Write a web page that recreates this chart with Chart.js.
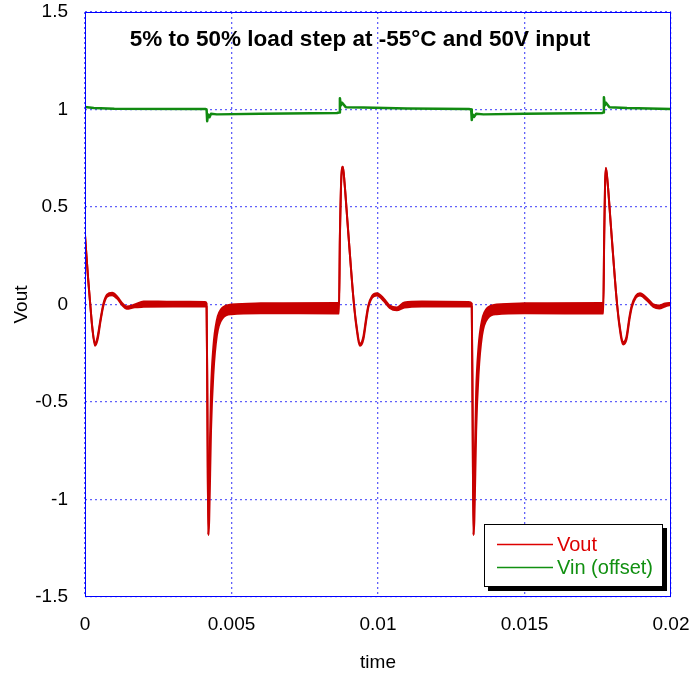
<!DOCTYPE html>
<html>
<head>
<meta charset="utf-8">
<script src="https://cdn.jsdelivr.net/npm/chart.js@4/dist/chart.umd.min.js"></script>
<style>
  html, body { margin: 0; padding: 0; background: #ffffff; }
</style>
</head>
<body>
<canvas id="graficoCarga" width="693" height="674"></canvas>
<script>
// Tempo (s) e tensao de saida: borda superior e inferior da faixa de ruido
const tempoVout = [
  0, 0.00005, 0.00011, 0.00018, 0.00025, 0.00034, 0.00043, 0.00053, 0.00063, 0.00075,
  0.00093, 0.0011, 0.00128, 0.00142, 0.0017, 0.002, 0.003, 0.0041, 0.00415, 0.00418,
  0.00421, 0.00424, 0.0043, 0.00438, 0.0045, 0.0047, 0.005, 0.006, 0.0086, 0.00867,
  0.0087, 0.00874, 0.0088, 0.00886, 0.00896, 0.00905, 0.00915, 0.00925, 0.00939, 0.0095,
  0.0096, 0.00967, 0.0098, 0.00996, 0.0102, 0.0104, 0.01064, 0.0109, 0.0115, 0.0131,
  0.0132, 0.01323, 0.01326, 0.01329, 0.01335, 0.01343, 0.01355, 0.01375, 0.01405, 0.015,
  0.01765, 0.01769, 0.01772, 0.01775, 0.01778, 0.01784, 0.01794, 0.01803, 0.01813, 0.01823,
  0.01837, 0.01848, 0.01858, 0.01866, 0.0188, 0.01894, 0.0192, 0.0194, 0.0196, 0.0198, 0.02
];
const voutAlto = [
  0.356, 0.25, 0.126, 0.0, -0.12, -0.2, -0.165, -0.075, 0.005, 0.05,
  0.06, 0.04, 0.005, -0.01, 0.0, 0.016, 0.014, 0.013, 0.005, -0.6,
  -1.182, -0.9, -0.45, -0.22, -0.08, -0.015, 0.0, 0.006, 0.008, 0.008,
  0.35, 0.62, 0.707, 0.62, 0.42, 0.24, 0.05, -0.09, -0.2, -0.165,
  -0.065, -0.005, 0.045, 0.058, 0.03, -0.005, -0.015, 0.01, 0.015, 0.013,
  0.005, -0.6, -1.182, -0.9, -0.45, -0.22, -0.08, -0.015, 0.0, 0.006,
  0.008, 0.008, 0.35, 0.62, 0.70, 0.62, 0.42, 0.24, 0.05, -0.09,
  -0.192, -0.165, -0.065, -0.005, 0.045, 0.058, 0.03, 0.0, -0.005, 0.005, 0.008
];
const voutBaixo = [
  0.356, 0.25, 0.126, 0.0, -0.12, -0.212, -0.18, -0.085, -0.005, 0.04,
  0.048, 0.03, -0.005, -0.022, -0.014, -0.012, -0.01, -0.01, -0.01, -0.6,
  -1.182, -1.1, -0.65, -0.36, -0.16, -0.07, -0.05, -0.045, -0.046, -0.046,
  0.35, 0.62, 0.707, 0.62, 0.42, 0.24, 0.05, -0.1, -0.212, -0.18,
  -0.08, -0.015, 0.035, 0.046, 0.018, -0.018, -0.03, -0.016, -0.01, -0.01,
  -0.01, -0.6, -1.182, -1.1, -0.65, -0.36, -0.16, -0.07, -0.05, -0.045,
  -0.046, -0.046, 0.35, 0.62, 0.70, 0.62, 0.42, 0.24, 0.05, -0.1,
  -0.205, -0.18, -0.08, -0.015, 0.035, 0.046, 0.018, -0.012, -0.02, -0.01, -0.002
];

// Tensao de entrada (com offset)
const tempoVin = [
  0, 0.0003, 0.001, 0.0041, 0.00415, 0.00417, 0.0042, 0.00425, 0.0043, 0.0045,
  0.006, 0.0086, 0.00867, 0.0087, 0.00873, 0.00877, 0.0089, 0.0095, 0.011, 0.0131,
  0.01318, 0.0132, 0.01323, 0.01328, 0.01335, 0.0136, 0.015, 0.01765, 0.01768, 0.01771,
  0.01774, 0.01778, 0.0179, 0.0185, 0.02
];
const vin = [
  1.013, 1.008, 1.004, 1.003, 1.0, 0.94, 0.975, 0.96, 0.978, 0.975,
  0.978, 0.982, 0.985, 1.058, 1.02, 1.035, 1.012, 1.01, 1.005, 1.003,
  1.0, 0.946, 0.975, 0.962, 0.978, 0.975, 0.978, 0.982, 0.985, 1.063,
  1.02, 1.035, 1.012, 1.008, 1.003
];

// Marcas dos eixos
const ticksX = [0, 0.005, 0.01, 0.015, 0.02];
const rotulosX = ['0', '0.005', '0.01', '0.015', '0.02'];
const ticksY = [-1.5, -1, -0.5, 0, 0.5, 1, 1.5];
const rotulosY = ['-1.5', '-1', '-0.5', '0', '0.5', '1', '1.5'];

const corVout = '#c80000';
const corVin = '#118a11';
const fonte = 'Liberation Sans, Arial, sans-serif';

const pontos = (xs, ys) => xs.map((x, i) => ({ x: x, y: ys[i] }));

// Titulo dentro da area do grafico, moldura azul e legenda com sombra
const extras = {
  id: 'extras',
  afterDraw(chart) {
    const { ctx, chartArea: a } = chart;
    ctx.save();
    ctx.strokeStyle = '#0000ff';
    ctx.lineWidth = 1;
    ctx.strokeRect(a.left + 0.5, a.top + 0.5, a.right - a.left - 1, a.bottom - a.top - 1);

    ctx.fillStyle = '#000000';
    ctx.font = 'bold 22.5px ' + fonte;
    ctx.textAlign = 'center';
    ctx.textBaseline = 'middle';
    ctx.fillText('5% to 50% load step at -55°C and 50V input', 360, 40);

    // legenda
    const lx = 484, ly = 524, lw = 179, lh = 63;
    ctx.fillStyle = '#000000';
    ctx.fillRect(lx + 4, ly + 4, lw, lh);
    ctx.fillStyle = '#ffffff';
    ctx.fillRect(lx, ly, lw, lh);
    ctx.strokeStyle = '#000000';
    ctx.strokeRect(lx + 0.5, ly + 0.5, lw - 1, lh - 1);
    const itens = [
      { texto: chart.data.datasets[0].label, cor: '#dd0000', y: 544.5 },
      { texto: chart.data.datasets[2].label, cor: '#119011', y: 567.5 }
    ];
    ctx.font = '20px ' + fonte;
    ctx.textAlign = 'left';
    ctx.lineWidth = 1.3;
    itens.forEach(it => {
      ctx.strokeStyle = it.cor;
      ctx.beginPath();
      ctx.moveTo(497, it.y);
      ctx.lineTo(553, it.y);
      ctx.stroke();
      ctx.fillStyle = it.cor;
      ctx.fillText(it.texto, 557, it.y + 1);
    });
    ctx.restore();
  }
};

new Chart(document.getElementById('graficoCarga').getContext('2d'), {
  type: 'line',
  data: {
    datasets: [
      {
        label: 'Vout',
        data: pontos(tempoVout, voutAlto),
        borderColor: corVout,
        borderWidth: 2,
        borderJoinStyle: 'round',
        cubicInterpolationMode: 'monotone',
        pointRadius: 0,
        fill: false
      },
      {
        label: 'Vout (faixa)',
        data: pontos(tempoVout, voutBaixo),
        borderColor: corVout,
        backgroundColor: corVout,
        borderWidth: 2,
        borderJoinStyle: 'round',
        cubicInterpolationMode: 'monotone',
        pointRadius: 0,
        fill: '-1'
      },
      {
        label: 'Vin (offset)',
        data: pontos(tempoVin, vin),
        borderColor: corVin,
        borderWidth: 2.5,
        borderJoinStyle: 'round',
        pointRadius: 0,
        fill: false
      }
    ]
  },
  options: {
    responsive: false,
    animation: false,
    layout: { padding: { top: 12, right: 22, left: 0, bottom: 0 } },
    plugins: {
      legend: { display: false },
      tooltip: { enabled: false }
    },
    scales: {
      x: {
        type: 'linear',
        min: 0,
        max: 0.02,
        afterBuildTicks: (s) => { s.ticks = ticksX.map(v => ({ value: v })); },
        afterFit: (s) => { s.height = 77; s.paddingLeft = 0; s.paddingRight = 0; },
        ticks: {
          color: '#000000',
          padding: 16,
          maxRotation: 0,
          font: { size: 19, family: fonte },
          callback: (v, i) => rotulosX[i]
        },
        grid: { color: 'rgba(80,80,250,0.9)', lineWidth: 1.3, drawTicks: false },
        border: { display: false, dash: [2, 3] },
        title: {
          display: true,
          text: 'time',
          color: '#000000',
          padding: { top: 0, bottom: 0 },
          font: { size: 19, family: fonte }
        }
      },
      y: {
        min: -1.5,
        max: 1.5,
        afterBuildTicks: (s) => { s.ticks = ticksY.map(v => ({ value: v })); },
        afterFit: (s) => { s.width = 85; s.paddingTop = 0; s.paddingBottom = 0; },
        ticks: {
          color: '#000000',
          padding: 17,
          font: { size: 19, family: fonte },
          callback: (v, i) => rotulosY[i]
        },
        grid: { color: 'rgba(80,80,250,0.9)', lineWidth: 1.3, drawTicks: false },
        border: { display: false, dash: [2, 3] },
        title: {
          display: true,
          text: 'Vout',
          color: '#000000',
          padding: { top: 10, bottom: 0 },
          font: { size: 19, family: fonte }
        }
      }
    }
  },
  plugins: [extras]
});
</script>
</body>
</html>
